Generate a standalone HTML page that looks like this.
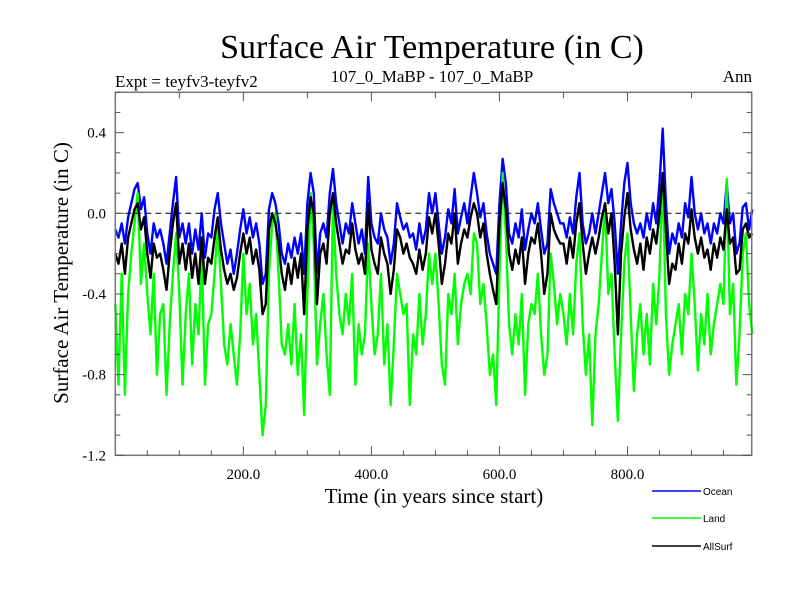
<!DOCTYPE html>
<html><head><meta charset="utf-8"><style>
body{margin:0;background:#fff;}
svg text{font-family:"Liberation Serif",serif;}
svg text.sans{font-family:"Liberation Sans",sans-serif;}
</style></head><body>
<svg id="chart" width="800" height="600" xmlns="http://www.w3.org/2000/svg">
<text x="432" y="58" font-size="34" text-anchor="middle">Surface Air Temperature (in C)</text>
<text x="115" y="87" font-size="17">Expt = teyfv3-teyfv2</text>
<text x="432" y="82" font-size="17" text-anchor="middle">107_0_MaBP - 107_0_MaBP</text>
<text x="752" y="82" font-size="17" text-anchor="end">Ann</text>
<text transform="translate(68,273) rotate(-90)" font-size="21" text-anchor="middle">Surface Air Temperature (in C)</text>
<text x="434" y="503" font-size="21" text-anchor="middle">Time (in years since start)</text>
<g id="series"></g>
<g id="axes"></g>
<g>
<line x1="652" y1="491" x2="701" y2="491" stroke="#0000ff" stroke-width="1.5"/>
<text class="sans" x="703" y="495" font-size="10">Ocean</text>
<line x1="652" y1="518" x2="701" y2="518" stroke="#00ff00" stroke-width="1.5"/>
<text class="sans" x="703" y="522" font-size="10">Land</text>
<line x1="652" y1="546" x2="701" y2="546" stroke="#000" stroke-width="1.5"/>
<text class="sans" x="703" y="550" font-size="10">AllSurf</text>
</g>
</svg>
<script>
const yearStep = 5;
const yTickValues = [0.4, 0.0, -0.4, -0.8, -1.2];
const yTickLabels = ["0.4", "0.0", "-0.4", "-0.8", "-1.2"];
const xTickValues = [200, 400, 600, 800];
const xTickLabels = ["200.0", "400.0", "600.0", "800.0"];
const ocean = [
-0.08,-0.12,-0.05,-0.15,-0.02,0.05,0.12,0.15,0.02,0.08,
-0.1,-0.2,-0.05,-0.12,-0.08,-0.15,-0.25,-0.1,0.05,0.18,
-0.12,-0.05,-0.15,-0.05,-0.2,-0.08,-0.18,0.0,-0.22,-0.1,
-0.12,0.02,0.1,-0.05,-0.15,-0.25,-0.18,-0.3,-0.2,-0.08,
0.02,-0.1,-0.02,-0.12,-0.05,-0.15,-0.35,-0.3,0.02,0.1,
0.05,-0.05,-0.2,-0.25,-0.15,-0.22,-0.12,-0.2,-0.1,-0.3,
0.05,0.2,0.1,-0.3,-0.1,-0.05,-0.12,0.1,0.22,0.05,
-0.05,-0.15,-0.05,-0.1,0.05,-0.05,-0.15,-0.08,-0.2,0.18,
-0.05,-0.12,-0.15,0.0,-0.08,-0.12,-0.25,-0.15,0.05,-0.02,
-0.08,-0.05,-0.12,-0.1,-0.18,-0.05,-0.15,-0.08,0.1,0.0,
0.1,-0.05,-0.2,-0.12,0.02,-0.05,0.12,-0.1,-0.02,0.05,
-0.05,0.08,0.2,0.1,-0.02,0.05,-0.1,-0.2,-0.25,-0.3,
0.05,0.27,0.15,-0.1,-0.15,-0.05,-0.12,0.02,-0.18,-0.08,
0.0,-0.05,0.05,-0.08,-0.2,-0.15,0.12,0.05,0.0,-0.05,
-0.05,-0.12,-0.02,-0.1,0.08,0.2,-0.05,-0.15,-0.1,0.0,
-0.1,0.0,0.1,0.2,0.05,0.12,-0.05,-0.3,-0.05,0.15,
0.25,0.05,-0.05,-0.1,-0.05,-0.12,0.0,-0.08,0.05,-0.05,
0.15,0.42,0.05,-0.2,-0.1,-0.15,-0.05,-0.12,0.05,-0.02,
0.18,0.0,-0.08,0.0,-0.1,-0.05,-0.15,-0.05,-0.1,0.0,
-0.05,0.15,-0.05,0.0,-0.2,-0.15,0.03,0.05,-0.08,0.02];
const land = [
-0.45,-0.85,-0.3,-0.9,-0.4,-0.2,-0.05,0.1,-0.35,-0.15,
-0.4,-0.6,-0.3,-0.8,-0.5,-0.45,-0.9,-0.55,-0.3,-0.1,
-0.4,-0.85,-0.5,-0.3,-0.75,-0.45,-0.6,-0.2,-0.85,-0.55,
-0.5,-0.3,-0.05,-0.35,-0.65,-0.75,-0.55,-0.7,-0.85,-0.6,
-0.2,-0.5,-0.35,-0.65,-0.5,-0.8,-1.1,-0.95,-0.3,-0.05,
0.0,-0.3,-0.65,-0.7,-0.55,-0.75,-0.45,-0.8,-0.6,-1.0,
-0.4,0.1,-0.15,-0.75,-0.55,-0.4,-0.7,-0.9,0.05,-0.3,
-0.5,-0.6,-0.4,-0.55,-0.3,-0.85,-0.55,-0.7,-0.6,-0.15,
-0.45,-0.7,-0.6,-0.3,-0.75,-0.55,-0.95,-0.65,-0.3,-0.4,
-0.5,-0.45,-0.95,-0.6,-0.7,-0.4,-0.65,-0.5,-0.2,-0.35,
-0.2,-0.45,-0.75,-0.85,-0.4,-0.5,-0.3,-0.65,-0.45,-0.35,
-0.3,-0.4,-0.1,-0.15,-0.45,-0.35,-0.55,-0.8,-0.7,-0.95,
-0.3,0.2,-0.1,-0.55,-0.7,-0.5,-0.65,-0.4,-0.9,-0.55,
-0.45,-0.5,-0.3,-0.6,-0.8,-0.7,-0.2,-0.35,-0.55,-0.4,
-0.5,-0.65,-0.4,-0.6,-0.25,-0.1,-0.55,-0.8,-0.6,-1.05,
-0.6,-0.45,-0.2,0.05,-0.4,-0.3,-0.7,-1.03,-0.6,-0.25,
-0.1,-0.5,-0.88,-0.6,-0.45,-0.7,-0.5,-0.75,-0.35,-0.55,
-0.3,0.2,-0.5,-0.8,-0.65,-0.55,-0.45,-0.7,-0.4,-0.5,
-0.2,-0.45,-0.78,-0.5,-0.65,-0.4,-0.7,-0.55,-0.45,-0.35,
-0.45,0.17,-0.5,-0.35,-0.85,-0.6,-0.2,-0.1,-0.45,-0.6];
const allSurf = [
-0.2,-0.25,-0.15,-0.3,-0.12,-0.05,0.02,0.05,-0.08,-0.02,
-0.2,-0.32,-0.15,-0.22,-0.2,-0.28,-0.38,-0.2,-0.05,0.05,
-0.25,-0.15,-0.28,-0.15,-0.32,-0.2,-0.35,-0.12,-0.35,-0.22,
-0.25,-0.12,-0.02,-0.18,-0.28,-0.35,-0.3,-0.38,-0.32,-0.2,
-0.1,-0.2,-0.12,-0.25,-0.18,-0.28,-0.5,-0.45,-0.08,0.0,
-0.05,-0.15,-0.3,-0.38,-0.25,-0.35,-0.22,-0.32,-0.2,-0.5,
-0.08,0.08,0.0,-0.45,-0.2,-0.15,-0.25,0.0,0.1,-0.05,
-0.15,-0.25,-0.18,-0.2,-0.05,-0.18,-0.25,-0.2,-0.3,0.05,
-0.18,-0.25,-0.3,-0.12,-0.2,-0.25,-0.4,-0.28,-0.08,-0.12,
-0.2,-0.15,-0.22,-0.25,-0.3,-0.18,-0.28,-0.2,-0.02,-0.1,
0.0,-0.15,-0.35,-0.25,-0.1,-0.15,0.0,-0.25,-0.15,-0.08,
-0.12,-0.02,0.05,0.0,-0.12,-0.05,-0.2,-0.3,-0.38,-0.45,
-0.05,0.15,0.02,-0.2,-0.28,-0.18,-0.25,-0.12,-0.35,-0.2,
-0.12,-0.15,-0.05,-0.2,-0.4,-0.3,0.0,-0.08,-0.12,-0.15,
-0.15,-0.25,-0.12,-0.22,-0.05,0.05,-0.15,-0.3,-0.2,-0.12,
-0.2,-0.12,-0.02,0.05,-0.1,0.0,-0.25,-0.6,-0.2,-0.02,
0.1,-0.08,-0.18,-0.25,-0.15,-0.28,-0.12,-0.2,-0.08,-0.15,
0.0,0.2,-0.08,-0.35,-0.25,-0.28,-0.15,-0.25,-0.1,-0.15,
0.02,-0.12,-0.2,-0.12,-0.22,-0.18,-0.28,-0.15,-0.22,-0.12,
-0.18,0.02,-0.15,-0.12,-0.3,-0.28,-0.08,-0.05,-0.12,-0.1];

const L = 115.3, R = 751.7, T = 92.3, B = 455.3;
const xMin = 0, xMax = 994, yMin = -1.2, yMax = 0.6;
function xs(v){ return L + (v - xMin) / (xMax - xMin) * (R - L); }
function ys(v){ return B - (v - yMin) / (yMax - yMin) * (B - T); }
const NS = "http://www.w3.org/2000/svg";
function mk(tag, attrs, parent){ const e = document.createElementNS(NS, tag); for (const k in attrs) e.setAttribute(k, attrs[k]); parent.appendChild(e); return e; }

const sg = document.getElementById('series');
function drawSeries(arr, color, name){
  const d = arr.map((v,i)=> (i?'L':'M') + xs(i*yearStep).toFixed(2) + ' ' + ys(v).toFixed(2)).join(' ');
  const p = mk('path', {d: d, fill: 'none', stroke: color, 'stroke-width': 2.4, 'stroke-linejoin': 'round'}, sg);
  
  
}
drawSeries(ocean, '#0000ff', 'ocean-line');
drawSeries(land, '#00ff00', 'land-line');
drawSeries(allSurf, '#000000', 'allsurf-line');

const ag = document.getElementById('axes');
const zl = mk('line', {x1: L, x2: R, y1: ys(0), y2: ys(0), stroke: '#000', 'stroke-width': 1, 'stroke-dasharray': '6,4'}, ag);


const frame = mk('rect', {x: L, y: T, width: R - L, height: B - T, fill: 'none', stroke: '#777', 'stroke-width': 1.5}, ag);


for (let k = -12; k <= 6; k++){
  const v = k / 10, y = ys(v), major = (k % 4 === 0);
  const len = major ? 9 : 5;
  mk('line', {x1: L, x2: L + len, y1: y, y2: y, stroke: '#555', 'stroke-width': 1}, ag);
  mk('line', {x1: R, x2: R - len, y1: y, y2: y, stroke: '#555', 'stroke-width': 1}, ag);
}
for (let v = 50; v < xMax; v += 50){
  const x = xs(v), major = (v % 200 === 0);
  mk('line', {x1: x, x2: x, y1: B, y2: B - (major ? 9 : 5), stroke: '#555', 'stroke-width': 1}, ag);
  if (v % 100 === 0) mk('line', {x1: x, x2: x, y1: T, y2: T + (major ? 9 : 6), stroke: '#555', 'stroke-width': 1}, ag);
}
yTickValues.forEach((v,i)=>{
  const t = mk('text', {x: 106, y: ys(v) + 5, 'font-size': 15, 'text-anchor': 'end'}, ag);
  t.textContent = yTickLabels[i];
  
  
});
xTickValues.forEach((v,i)=>{
  const t = mk('text', {x: xs(v), y: 479, 'font-size': 15, 'text-anchor': 'middle'}, ag);
  t.textContent = xTickLabels[i];
  
  
});
</script>
</body></html>
